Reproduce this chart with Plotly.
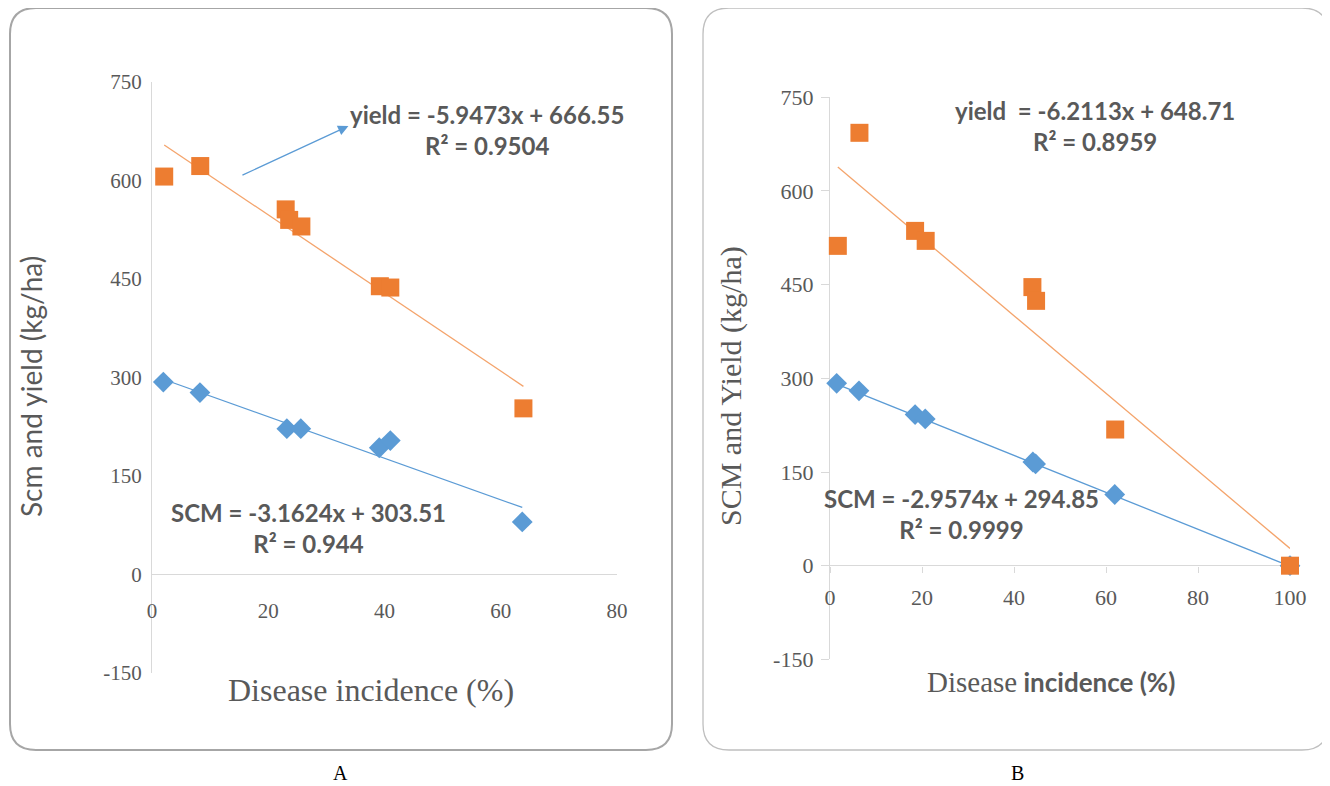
import plotly.graph_objects as go

# ---------------- data ----------------
# Panel A
a_yield_x = [2.1, 8.3, 23.0, 23.6, 25.7, 39.2, 41.0, 63.9]
a_yield_y = [606, 622, 556, 540, 530, 439, 437, 253]
a_scm_x = [1.95, 8.25, 23.2, 25.6, 39.1, 41.0, 63.7]
a_scm_y = [293, 277, 222, 222, 193, 204, 80]
a_yield_fit = (-5.9473, 666.55)
a_scm_fit = (-3.1624, 303.51)

# Panel B
b_yield_x = [1.7, 6.4, 18.5, 20.8, 44.0, 44.8, 62.0, 100]
b_yield_y = [512, 693, 536, 520, 446, 424, 218, 0]
b_scm_x = [1.45, 6.3, 18.5, 20.7, 44.1, 44.7, 61.9, 100]
b_scm_y = [292, 280, 242, 235, 166, 163, 114, 0]
b_yield_fit = (-6.2113, 648.71)
b_scm_fit = (-2.9574, 294.85)

y_ticks = [-150, 0, 150, 300, 450, 600, 750]
y_ticklabels = ["-150", "0", "150", "300", "450", "600", "750"]
a_x_ticks = [0, 20, 40, 60, 80]
b_x_ticks = [0, 20, 40, 60, 80, 100]

ORANGE = "#ED7D31"
BLUE = "#5B9BD5"
ORANGE_LINE = "#F4A46C"
GREY_TXT = "#595959"
AXIS_C = "#D9D9D9"

W, H = 1330, 786
OFF = 8  # page body margin
def PX(x): return (x - OFF) / W
def PY(y): return 1 - (y - OFF) / H

def fit_line(coef, xs):
    m, c = coef
    x0, x1 = min(xs), max(xs)
    return [x0, x1], [m * x0 + c, m * x1 + c]

fig = go.Figure()

def add_panel(xa, ya, yx, yy, sx, sy, yfit, sfit):
    lx, ly = fit_line(yfit, yx)
    fig.add_trace(go.Scatter(x=lx, y=ly, mode="lines", line=dict(color=ORANGE_LINE, width=1.3),
                             xaxis=xa, yaxis=ya, showlegend=False, hoverinfo="skip",
                             cliponaxis=False))
    lx, ly = fit_line(sfit, sx)
    fig.add_trace(go.Scatter(x=lx, y=ly, mode="lines", line=dict(color=BLUE, width=1.3),
                             xaxis=xa, yaxis=ya, showlegend=False, hoverinfo="skip",
                             cliponaxis=False))
    fig.add_trace(go.Scatter(x=sx, y=sy, mode="markers",
                             marker=dict(symbol="diamond", size=16, color=BLUE),
                             xaxis=xa, yaxis=ya, showlegend=False, cliponaxis=False))
    fig.add_trace(go.Scatter(x=yx, y=yy, mode="markers",
                             marker=dict(symbol="square", size=18, color=ORANGE),
                             xaxis=xa, yaxis=ya, showlegend=False, cliponaxis=False))

add_panel("x", "y", a_yield_x, a_yield_y, a_scm_x, a_scm_y, a_yield_fit, a_scm_fit)
add_panel("x2", "y2", b_yield_x, b_yield_y, b_scm_x, b_scm_y, b_yield_fit, b_scm_fit)

serif = "Liberation Serif, Times New Roman, serif"
tickfont_a = dict(family=serif, size=21, color=GREY_TXT)
tickfont_b = dict(family=serif, size=22, color=GREY_TXT)

common_x = dict(showgrid=False, zeroline=False, showline=False, layer="below traces",
                anchor="free", fixedrange=True, automargin=False)
common_y = dict(showgrid=False, zeroline=True, zerolinecolor=AXIS_C, zerolinewidth=1.3,
                showline=True, linecolor=AXIS_C, linewidth=1.3, automargin=False,
                layer="below traces",
                tickvals=y_ticks, ticktext=y_ticklabels, range=[-150, 750], fixedrange=True)

fig.update_layout(
    width=W, height=H,
    margin=dict(l=0, r=0, t=0, b=0, pad=0, autoexpand=False),
    paper_bgcolor="white", plot_bgcolor="white",
    xaxis=dict(domain=[PX(152), PX(617)], range=[0, 80], tickvals=a_x_ticks, tickfont=tickfont_a,
               position=PY(575), ticks="outside", ticklen=17, tickcolor="rgba(0,0,0,0)",
               **common_x),
    yaxis=dict(domain=[PY(673), PY(82)], anchor="x", ticks="", ticklabelstandoff=5,
               tickfont=tickfont_a, **common_y),
    xaxis2=dict(domain=[PX(830), PX(1290)], range=[0, 100], tickvals=b_x_ticks, tickfont=tickfont_b,
                position=PY(565.7), ticks="outside", ticklen=6, tickcolor=AXIS_C,
                ticklabelstandoff=6, **common_x),
    yaxis2=dict(domain=[PY(659.4), PY(97.2)], anchor="x2", ticks="outside", ticklen=8,
                tickcolor=AXIS_C, ticklabelstandoff=3, tickfont=tickfont_b, **common_y),
)

def rounded_rect(x0, y0, x1, y1, r):
    rx, ry = r / W, r / H
    X0, X1 = PX(x0), PX(x1)
    Y0, Y1 = PY(y0), PY(y1)  # Y0 top, Y1 bottom
    return (f"M {X0+rx} {Y0} L {X1-rx} {Y0} Q {X1} {Y0} {X1} {Y0-ry} "
            f"L {X1} {Y1+ry} Q {X1} {Y1} {X1-rx} {Y1} "
            f"L {X0+rx} {Y1} Q {X0} {Y1} {X0} {Y1+ry} "
            f"L {X0} {Y0-ry} Q {X0} {Y0} {X0+rx} {Y0} Z")

fig.add_shape(type="path", xref="paper", yref="paper",
              path=rounded_rect(10, 8, 672, 750, 26), line=dict(color="#A6A6A6", width=2))
fig.add_shape(type="path", xref="paper", yref="paper",
              path=rounded_rect(703, 8, 1328, 750, 26), line=dict(color="#BFBFBF", width=1.3))

eqfont = dict(family="Lato, Carlito, sans-serif", size=24, color=GREY_TXT)

def ann(x, y, text, font, xanchor="center", **kw):
    fig.add_annotation(x=PX(x), y=PY(y), xref="paper", yref="paper", text=text,
                       showarrow=False, font=font, xanchor=xanchor, yanchor="middle", **kw)

# equations panel A
ann(487, 129.5, "<b>yield = -5.9473x + 666.55<br>R² = 0.9504</b>", eqfont, borderpad=0)
ann(308, 527.5, "<b>SCM = -3.1624x + 303.51<br>R² = 0.944</b>", eqfont, borderpad=0)
# equations panel B
ann(1095, 126.5, "<b>yield&nbsp; = -6.2113x + 648.71<br>R² = 0.8959</b>", eqfont, borderpad=0)
ann(961, 513.5, "<b>SCM = -2.9574x + 294.85<br>R² = 0.9999</b>", eqfont, borderpad=0)

# arrow in panel A
arrow_tail = (15.3, 607)
arrow_head = (33.8, 683)
fig.add_annotation(x=arrow_head[0], y=arrow_head[1], ax=arrow_tail[0], ay=arrow_tail[1],
                   xref="x", yref="y", axref="x", ayref="y", text="", showarrow=True,
                   arrowhead=2, arrowsize=1.6, arrowwidth=1.3, arrowcolor=BLUE)

# axis titles
ann(31, 387, "Scm and yield (kg/ha)", dict(family="Lato, sans-serif", size=28, color=GREY_TXT),
    textangle=-90)
ann(371, 690, "Disease incidence (%)", dict(family=serif, size=32, color=GREY_TXT))
ann(731, 386, "SCM and Yield (kg/ha)", dict(family=serif, size=30, color=GREY_TXT),
    textangle=-90)
ann(926, 682,
    "Disease<span style='font-family:Lato, sans-serif;font-size:26px;font-weight:bold'> incidence (%)</span>",
    dict(family=serif, size=29, color=GREY_TXT), xanchor="left", borderpad=0)

# panel labels
ann(340, 773, "A", dict(family=serif, size=20, color="black"))
ann(1017, 773, "B", dict(family=serif, size=20, color="black"))

fig.write_html("out.html")
